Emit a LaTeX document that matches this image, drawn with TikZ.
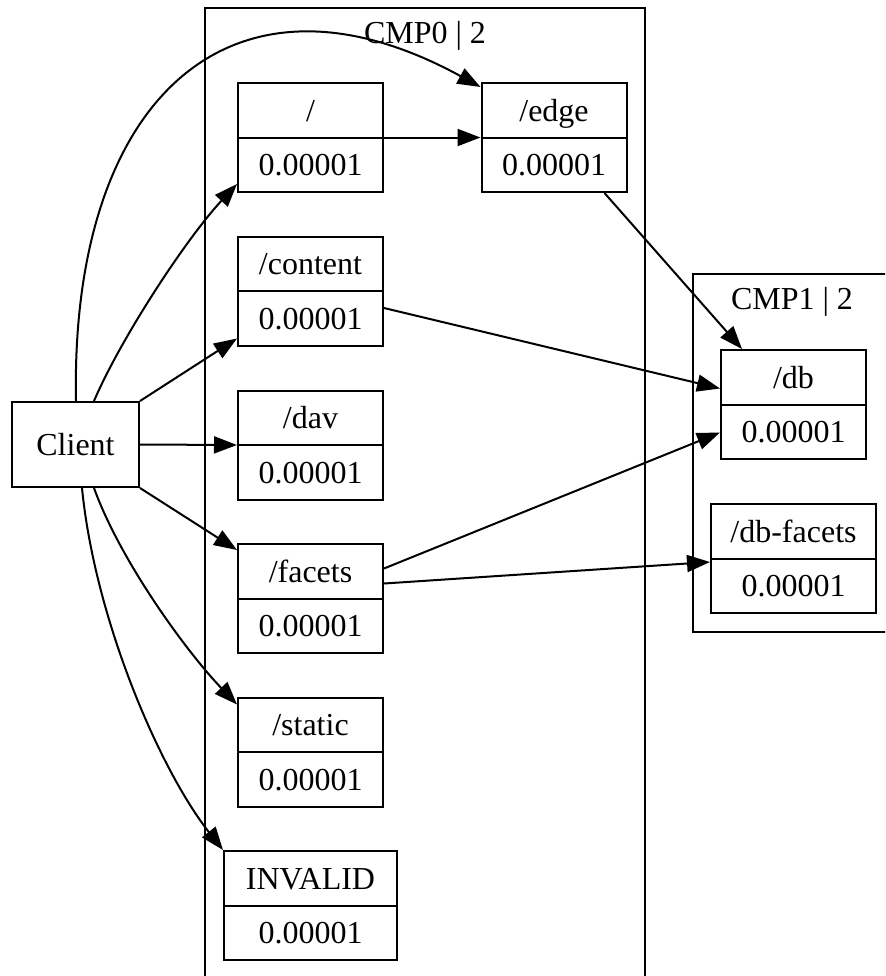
\documentclass[tikz,border=0pt]{standalone}
\usepackage{fontspec}
\setmainfont{Liberation Serif}
\usetikzlibrary{calc,arrows.meta}
\tikzset{
  lbl/.style={font=\fontsize{16pt}{19pt}\selectfont, inner sep=0pt, text height=10.8pt, text depth=0pt, anchor=center},
  recbox/.style={draw, line width=1pt, rectangle, inner sep=0pt, minimum height=54.5pt, minimum width=72.5pt},
  plainbox/.style={draw, line width=1pt, rectangle, inner sep=0pt},
  cluster/.style={draw, line width=1pt},
  divider/.style={line width=1pt},
  conn/.style={line width=1pt, -{Triangle[length=11.5pt,width=8.5pt]}},
}
\begin{document}
\begin{tikzpicture}[x=0.5pt,y=-0.5pt]
\useasboundingbox (0,0) rectangle (885,976);
\clip (0,0) rectangle (885,976);
% clusters
\draw[cluster] (205,8) rectangle (645,1000);
\node[lbl] (cmp0) at (425,33) {CMP0 | 2};
\draw[cluster] (693,274) rectangle (920,632);
\node[lbl] (cmp1) at (792,299) {CMP1 | 2};
% nodes
\node[plainbox, minimum width=63.5pt, minimum height=42.5pt] (client) at (75.5,444.5) {};
\node[lbl] (clientt) at (client.center) {Client};
% record nodes
\node[recbox] (root) at (310.5,137.5) {};
\node[recbox] (edgen) at (554,137.5) {};
\node[recbox] (content) at (310.5,291) {};
\node[recbox] (dav) at (310.5,445) {};
\node[recbox] (facets) at (310.5,598.5) {};
\node[recbox] (static) at (310.5,752) {};
\node[recbox, minimum width=86.5pt] (invalid) at (310.5,905.5) {};
\node[recbox] (db) at (793.5,404.5) {};
\node[recbox, minimum width=82.5pt] (dbfacets) at (793.5,558.5) {};
\foreach \n in {root,edgen,content,dav,facets,static,invalid,db,dbfacets}{
  \draw[divider] (\n.west) -- (\n.east);
  \node[lbl] (\n b) at ($(\n.center)+(0,27.25)$) {0.00001};
}
\node[lbl] (roott) at ($(root.center)+(0,-27.25)$) {/};
\node[lbl] (edgent) at ($(edgen.center)+(0,-27.25)$) {/edge};
\node[lbl] (contentt) at ($(content.center)+(0,-27.25)$) {/content};
\node[lbl] (davt) at ($(dav.center)+(0,-27.25)$) {/dav};
\node[lbl] (facetst) at ($(facets.center)+(0,-27.25)$) {/facets};
\node[lbl] (statict) at ($(static.center)+(0,-27.25)$) {/static};
\node[lbl] (invalidt) at ($(invalid.center)+(0,-27.25)$) {INVALID};
\node[lbl] (dbt) at ($(db.center)+(0,-27.25)$) {/db};
\node[lbl] (dbfacetst) at ($(dbfacets.center)+(0,-27.25)$) {/db-facets};
% connectors
\draw[conn] ($(client.north west)+(65,0)$) .. controls (70,100) and (230,-50) .. ($(edgen.north west)+(0,5)$);
\draw[conn] ($(client.north west)+(83,0)$) .. controls (120,340) and (185,240) .. ($(root.south west)+(0,-9)$);
\draw[conn] (client.north east) -- ($(content.south west)+(0,-8)$);
\draw[conn] (client.east) -- (dav.west);
\draw[conn] (client.south east) -- ($(facets.north west)+(0,7)$);
\draw[conn] ($(client.south west)+(83,0)$) .. controls (120,560) and (185,650) .. ($(static.north west)+(0,8)$);
\draw[conn] ($(client.south west)+(71,0)$) .. controls (95,620) and (160,770) .. (invalid.north west);
\draw[conn] (root.east) -- (edgen.west);
\draw[conn] ($(edgen.south west)+(124,0)$) -- ($(db.north west)+(22,0)$);
\draw[conn] ($(content.east)+(0,17)$) -- ($(db.west)+(0,-16)$);
\draw[conn] ($(facets.east)+(0,-30)$) -- ($(db.west)+(0,28)$);
\draw[conn] ($(facets.east)+(0,-15)$) -- ($(dbfacets.west)+(0,3.5)$);
\end{tikzpicture}
\end{document}
